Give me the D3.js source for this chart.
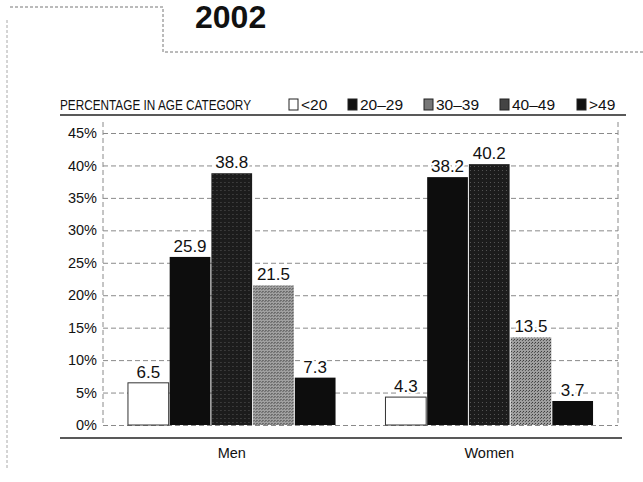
<!DOCTYPE html>
<html>
<head>
<meta charset="utf-8">
<script src="https://cdn.jsdelivr.net/npm/d3@7"></script>
<style>
  body { margin: 0; background: #fff; }
  svg { display: block; font-family: "Liberation Sans", Arial, sans-serif; }
</style>
</head>
<body>
<script>
// chart values
var groups = ["Men", "Women"];
var ages = ["<20", "20\u201329", "30\u201339", "40\u201349", ">49"];
var menValues = [6.5, 25.9, 38.8, 21.5, 7.3];
var womenValues = [4.3, 38.2, 40.2, 13.5, 3.7];
var yTicks = [0, 5, 10, 15, 20, 25, 30, 35, 40, 45];

var W = 643, H = 482;
var svg = d3.select("body").append("svg").attr("width", W).attr("height", H);

// patterns to mimic the print screens
var defs = svg.append("defs");
var p1 = defs.append("pattern").attr("id", "pat30").attr("width", 4).attr("height", 4)
    .attr("patternUnits", "userSpaceOnUse");
p1.append("rect").attr("width", 4).attr("height", 4).attr("fill", "#1c1c1c");
p1.append("rect").attr("x", 1).attr("y", 2).attr("width", 1).attr("height", 1).attr("fill", "#555");
var p2 = defs.append("pattern").attr("id", "pat40").attr("width", 3).attr("height", 3)
    .attr("patternUnits", "userSpaceOnUse");
p2.append("rect").attr("width", 3).attr("height", 3).attr("fill", "#a0a0a0");
p2.append("rect").attr("width", 1).attr("height", 1).attr("fill", "#3a3a3a");
p2.append("rect").attr("x", 2).attr("y", 1).attr("width", 1).attr("height", 1).attr("fill", "#555");

var fills = ["#ffffff", "#0d0d0d", "url(#pat30)", "url(#pat40)", "#0d0d0d"];
var legendFills = ["#ffffff", "#111", "#777", "#444", "#111"];

// scan frame lines
var frame = svg.append("g").attr("stroke", "#777").attr("stroke-width", 1)
    .attr("stroke-dasharray", "3,2").attr("fill", "none");
frame.append("path").attr("d", "M10,7H163V52H643");
frame.append("path").attr("d", "M7,20V470").attr("stroke", "#aaa");

// title
svg.append("text").attr("x", 195).attr("y", 28)
    .attr("font-size", 32).attr("font-weight", "bold").attr("fill", "#111")
    .text("2002");

var margin = {top: 120, left: 103, right: 25, bottom: 57};
var plotW = W - margin.left - margin.right;

var x0 = d3.scaleBand().domain(groups).range([margin.left, margin.left + plotW])
    .paddingInner(0.19).paddingOuter(0.095);
var x1 = d3.scaleBand().domain(ages).range([0, x0.bandwidth()]);
var y = d3.scaleLinear().domain([0, 45]).range([425, 133]);

// legend row
svg.append("text").attr("x", 60).attr("y", 110).attr("font-size", 15).attr("fill", "#111")
    .attr("textLength", 191).attr("lengthAdjust", "spacingAndGlyphs")
    .text("PERCENTAGE IN AGE CATEGORY");
var legendX = [289, 348, 424, 500, 577];
var lg = svg.append("g").selectAll("g").data(ages).enter().append("g")
    .attr("transform", function(d, i) { return "translate(" + legendX[i] + ",0)"; });
lg.append("rect").attr("x", 0).attr("y", 99).attr("width", 9).attr("height", 11)
    .attr("fill", function(d, i) { return legendFills[i]; })
    .attr("stroke", "#222").attr("stroke-width", 1);
lg.append("text").attr("x", 12).attr("y", 110).attr("font-size", 15.5).attr("fill", "#111")
    .text(function(d) { return d; });

svg.append("line").attr("x1", 60).attr("x2", 626).attr("y1", 115).attr("y2", 115)
    .attr("stroke", "#222").attr("stroke-width", 1.5);

// plot frame and gridlines
var grid = svg.append("g").attr("stroke", "#8a8a8a").attr("stroke-width", 1)
    .attr("stroke-dasharray", "5,3");
grid.selectAll("line").data(yTicks).enter().append("line")
    .attr("x1", margin.left).attr("x2", margin.left + plotW)
    .attr("y1", function(d) { return y(d) + 0.5; }).attr("y2", function(d) { return y(d) + 0.5; });
grid.append("line").attr("x1", margin.left).attr("x2", margin.left).attr("y1", 122).attr("y2", y(0));
grid.append("line").attr("x1", margin.left + plotW).attr("x2", margin.left + plotW).attr("y1", 122).attr("y2", y(0));

// y axis labels
var yAxis = svg.append("g").attr("transform", "translate(" + (margin.left - 6) + ",0)")
    .call(d3.axisLeft(y).tickValues(yTicks).tickSize(0).tickPadding(0)
      .tickFormat(function(d) { return d + "%"; }));
yAxis.select(".domain").remove();
yAxis.attr("font-size", 14.5).attr("font-family", "Liberation Sans, Arial, sans-serif");
yAxis.selectAll("text").attr("fill", "#111");

// bars
var seriesByGroup = {"Men": menValues, "Women": womenValues};
var barGroups = svg.append("g").selectAll("g").data(groups).enter().append("g")
    .attr("transform", function(d) { return "translate(" + x0(d) + ",0)"; });

barGroups.selectAll("rect").data(function(g) {
      return ages.map(function(a, i) { return {age: a, i: i, v: seriesByGroup[g][i]}; });
    }).enter().append("rect")
    .attr("x", function(d) { return x1(d.age) + 0.5; })
    .attr("width", x1.bandwidth() - 1)
    .attr("y", function(d) { return y(d.v); })
    .attr("height", function(d) { return y(0) - y(d.v); })
    .attr("fill", function(d) { return fills[d.i]; })
    .attr("stroke", function(d) { return d.i === 0 ? "#333" : "none"; })
    .attr("stroke-width", 1);

barGroups.selectAll("text").data(function(g) {
      return ages.map(function(a, i) { return {age: a, i: i, v: seriesByGroup[g][i]}; });
    }).enter().append("text")
    .attr("x", function(d) { return x1(d.age) + x1.bandwidth() / 2; })
    .attr("y", function(d) { return y(d.v) - 5; })
    .attr("text-anchor", "middle").attr("font-size", 17).attr("fill", "#111")
    .attr("stroke", "#fff").attr("stroke-width", 4).attr("paint-order", "stroke")
    .text(function(d) { return d.v.toFixed(1); });

// bottom rule and category labels
svg.append("line").attr("x1", 60).attr("x2", 622).attr("y1", 438).attr("y2", 438)
    .attr("stroke", "#222").attr("stroke-width", 1.5);
svg.append("g").selectAll("text").data(groups).enter().append("text")
    .attr("x", function(d) { return x0(d) + x0.bandwidth() / 2; })
    .attr("y", 458).attr("text-anchor", "middle").attr("font-size", 14.5).attr("fill", "#111")
    .text(function(d) { return d; });
</script>
</body>
</html>
